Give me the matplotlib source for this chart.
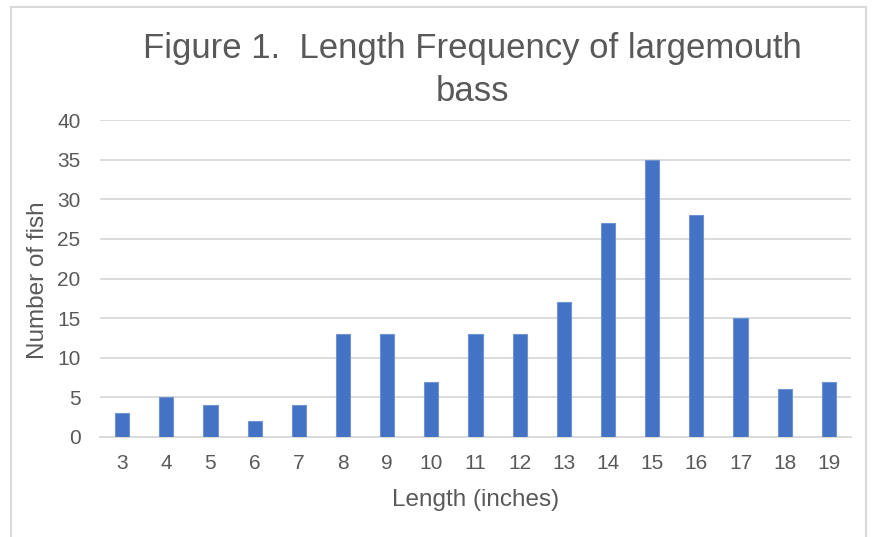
import numpy as np
import matplotlib.pyplot as plt
from matplotlib.patches import Rectangle

lengths = ['3', '4', '5', '6', '7', '8', '9', '10', '11', '12', '13', '14', '15', '16', '17', '18', '19']
counts = [3, 5, 4, 2, 4, 13, 13, 7, 13, 13, 17, 27, 35, 28, 15, 6, 7]
y_ticks = [0, 5, 10, 15, 20, 25, 30, 35, 40]

plt.rcParams['font.family'] = ['Liberation Sans', 'DejaVu Sans']
grey = '#595959'

W, H = 879, 537
fig = plt.figure(figsize=(W / 100, H / 100), dpi=100)
ax = fig.add_axes([100 / W, 1 - 437 / H, 751 / W, 317 / H])

# chart frame
fig.patches.append(Rectangle((11 / W, -0.05), 855 / W, 1 - 7 / H + 0.05,
                             transform=fig.transFigure, fill=False,
                             edgecolor='#D9D9D9', lw=1.5))

x = np.arange(len(lengths))
ax.bar(x, counts, width=0.32, color='#4472C4', edgecolor='#6F93D3', lw=0.8, zorder=3)

ax.set_xlim(-0.5, len(lengths) - 0.5)
ax.set_ylim(0, 40)
ax.set_yticks(y_ticks)
ax.set_xticks(x)
ax.set_xticklabels(lengths)
ax.yaxis.grid(True, color='#D9D9D9', lw=1.3, zorder=0)
ax.tick_params(axis='both', length=0, labelsize=15, colors=grey)
ax.tick_params(axis='x', pad=12)
ax.tick_params(axis='y', pad=14)
for s in ['top', 'right', 'left']:
    ax.spines[s].set_visible(False)
ax.spines['bottom'].set_color('#D9D9D9')
ax.spines['bottom'].set_linewidth(1.3)

fig.text(472 / W, 1 - 32 / H, 'Figure 1.  Length Frequency of largemouth\nbass',
         ha='center', va='top', fontsize=25, color=grey, linespacing=1.38)
ax.set_xlabel('Length (inches)', fontsize=17.5, color=grey, labelpad=12)
fig.text(38 / W, 1 - 280 / H, 'Number of fish', rotation=90, ha='center', va='center',
         fontsize=17.5, color=grey)

fig.savefig('out.png', dpi=100)
